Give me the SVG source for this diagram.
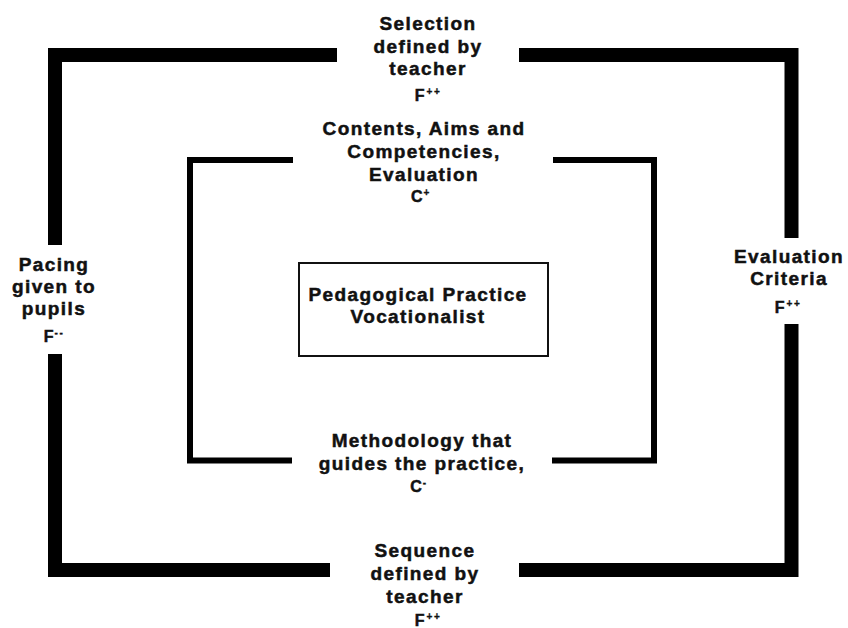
<svg xmlns="http://www.w3.org/2000/svg" width="848" height="628" viewBox="0 0 848 628">
  <style>
    .lbl { font-family: "Liberation Sans", Arial, sans-serif; font-weight: bold; font-size: 19px; letter-spacing: 1.4px; fill: #111; stroke: #111; stroke-width: 0.5px; text-anchor: middle; }
    .code { font-size: 16px; letter-spacing: 0; }
    .sup { font-size: 10px; letter-spacing: 1.5px; stroke-width: 0.3px; }
    .outer { fill: none; stroke: #000; stroke-width: 14; stroke-linejoin: miter; stroke-linecap: butt; }
    .inner { fill: none; stroke: #000; stroke-width: 6; stroke-linejoin: miter; stroke-linecap: butt; }
  </style>
  <rect width="848" height="628" fill="#fff"/>

  <!-- frame segments -->
  <g id="connectors">
    <path class="outer" d="M337 55 H55 V245"/>
    <path class="outer" d="M519 55 H791.5 V238"/>
    <path class="outer" d="M55 354 V570 H330"/>
    <path class="outer" d="M791.5 324 V570 H519"/>
    <path class="inner" d="M293 160 H190 V460.5 H292"/>
    <path class="inner" d="M553 160 H654 V460.5 H552"/>
  </g>

  <g id="selection">
    <text class="lbl" x="428" y="30">Selection</text>
    <text class="lbl" x="428" y="53">defined by</text>
    <text class="lbl" x="428" y="75">teacher</text>
    <text class="lbl code" x="428" y="101">F<tspan class="sup" dx="2" dy="-6">++</tspan></text>
  </g>

  <g id="contents">
    <text class="lbl" x="424" y="135">Contents, Aims and</text>
    <text class="lbl" x="424" y="158">Competencies,</text>
    <text class="lbl" x="424" y="181">Evaluation</text>
    <text class="lbl code" x="421" y="202">C<tspan class="sup" dx="1" dy="-6">+</tspan></text>
  </g>

  <g id="pacing">
    <text class="lbl" x="54" y="271">Pacing</text>
    <text class="lbl" x="54" y="293">given to</text>
    <text class="lbl" x="54" y="315">pupils</text>
    <text class="lbl code" x="54" y="342">F<tspan class="sup" dx="1" dy="-6">--</tspan></text>
  </g>

  <g id="evaluation-criteria">
    <text class="lbl" x="789" y="263">Evaluation</text>
    <text class="lbl" x="789" y="285">Criteria</text>
    <text class="lbl code" x="788" y="313">F<tspan class="sup" dx="2" dy="-6">++</tspan></text>
  </g>

  <g id="practice">
    <rect x="299" y="263" width="249" height="93" fill="#fff" stroke="#111" stroke-width="2"/>
    <text class="lbl" x="418" y="301">Pedagogical Practice</text>
    <text class="lbl" x="418" y="323">Vocationalist</text>
  </g>

  <g id="methodology">
    <text class="lbl" x="422" y="447">Methodology that</text>
    <text class="lbl" x="422" y="470">guides the practice,</text>
    <text class="lbl code" x="419" y="492">C<tspan class="sup" dx="1" dy="-6">-</tspan></text>
  </g>

  <g id="sequence">
    <text class="lbl" x="425" y="557">Sequence</text>
    <text class="lbl" x="425" y="580">defined by</text>
    <text class="lbl" x="425" y="603">teacher</text>
    <text class="lbl code" x="428" y="626">F<tspan class="sup" dx="2" dy="-6">++</tspan></text>
  </g>
</svg>
